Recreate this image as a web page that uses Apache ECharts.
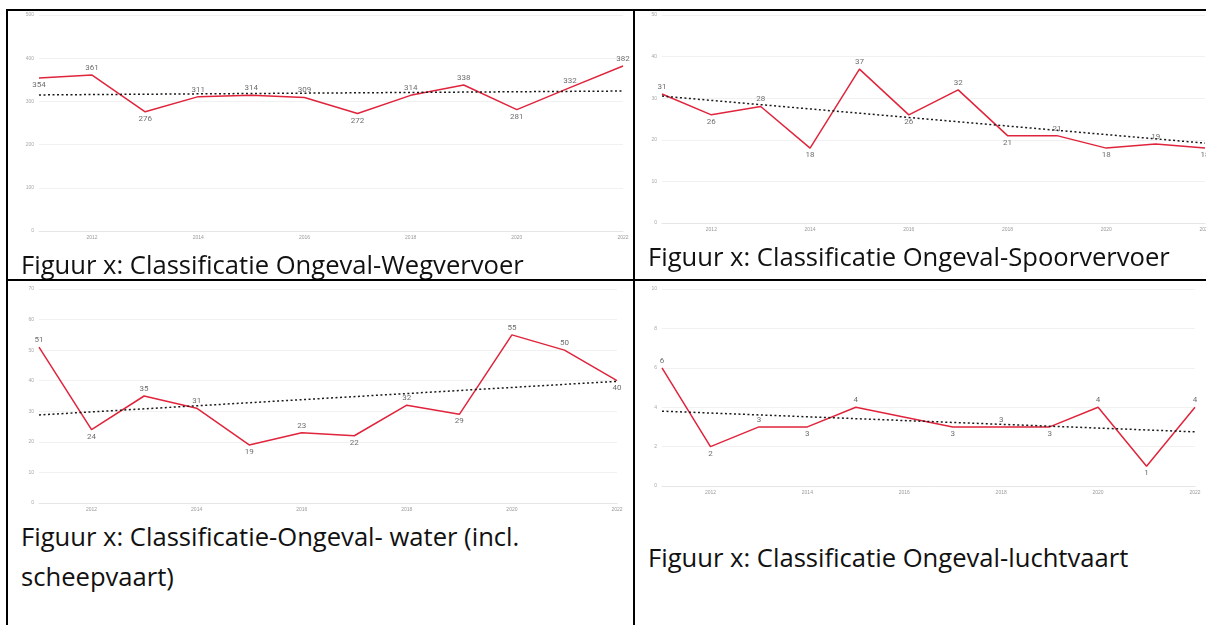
<!DOCTYPE html>
<html>
<head>
<meta charset="utf-8">
<script src="https://cdn.jsdelivr.net/npm/echarts@6/dist/echarts.min.js"></script>
<style>
  html, body { margin: 0; padding: 0; background: #fff; }
  body { width: 1206px; height: 625px; overflow: hidden; position: relative; }
  .chart { position: absolute; }
  .line { position: absolute; background: #000; z-index: 5; }
  .caption { position: absolute; font-family: "Open Sans", sans-serif; font-size: 25.6px; color: #111; white-space: nowrap; line-height: 40px; }
</style>
</head>
<body>
<div id="chartWeg" class="chart" style="left:0px; top:10px; width:632px; height:240px;"></div>
<div id="chartSpoor" class="chart" style="left:636px; top:10px; width:580px; height:240px;"></div>
<div id="chartWater" class="chart" style="left:0px; top:282px; width:632px; height:230px;"></div>
<div id="chartLucht" class="chart" style="left:636px; top:282px; width:570px; height:215px;"></div>

<div class="line" style="left:6px; top:9px; width:1200px; height:2px;"></div>
<div class="line" style="left:6px; top:279px; width:1200px; height:2px;"></div>
<div class="line" style="left:6px; top:9px; width:2px; height:616px;"></div>
<div class="line" style="left:633px; top:9px; width:2px; height:616px;"></div>

<div class="caption" style="left:21px; top:245px;">Figuur x: Classificatie Ongeval-Wegvervoer</div>
<div class="caption" style="left:648px; top:237px;">Figuur x: Classificatie Ongeval-Spoorvervoer</div>
<div class="caption" style="left:21px; top:517px;">Figuur x: Classificatie-Ongeval- water (incl.<br>scheepvaart)</div>
<div class="caption" style="left:648px; top:538px;">Figuur x: Classificatie Ongeval-luchtvaart</div>

<script>
var years = ['2011', '2012', '2013', '2014', '2015', '2016', '2017', '2018', '2019', '2020', '2021', '2022'];

var wegValues = [354, 361, 276, 311, 314, 309, 272, 314, 338, 281, 332, 382];
var wegTrend = [315, 324];
var wegAxis = [0, 500, 100];

var spoorValues = [31, 26, 28, 18, 37, 26, 32, 21, 21, 18, 19, 18];
var spoorTrend = [30.5, 19.2];
var spoorAxis = [0, 50, 10];

var waterValues = [51, 24, 35, 31, 19, 23, 22, 32, 29, 55, 50, 40];
var waterTrend = [28.8, 39.8];
var waterAxis = [0, 70, 10];

var luchtValues = [6, 2, 3, 3, 4, null, 3, 3, 3, 4, 1, 4];
var luchtTrend = [3.8, 2.75];
var luchtAxis = [0, 10, 2];

// label under the point when it is a local low, otherwise above
function labelSide(vals, i) {
	var v = vals[i];
	if (v == null) return 'top';
	var p = null, n = null;
	for (var j = i - 1; j >= 0; j--) { if (vals[j] != null) { p = vals[j]; break; } }
	for (var k = i + 1; k < vals.length; k++) { if (vals[k] != null) { n = vals[k]; break; } }
	var below = (p == null || v <= p) && (n == null || v <= n) && !(v === p && v === n);
	return below ? 'bottom' : 'top';
}

function makeOption(values, trend, axis, grid) {
	return {
		animation: false,
		grid: grid,
		xAxis: {
			type: 'category',
			boundaryGap: false,
			data: years,
			axisTick: { show: false },
			axisLine: { lineStyle: { color: '#e6e6e6' } },
			axisLabel: {
				fontSize: 5,
				color: '#9a9a9a',
				margin: 4,
				interval: function(index) { return index % 2 === 1; }
			}
		},
		yAxis: {
			type: 'value',
			min: axis[0],
			max: axis[1],
			interval: axis[2],
			axisLine: { show: false },
			axisTick: { show: false },
			splitLine: { lineStyle: { color: '#f1f1f1' } },
			axisLabel: { fontSize: 5, color: '#a8a8a8', margin: 5 }
		},
		series: [{
			type: 'line',
			connectNulls: true,
			symbol: 'circle',
			symbolSize: 0.1,
			lineStyle: { color: '#e0243c', width: 1.5 },
			itemStyle: { color: '#e0243c' },
			label: { show: true, fontSize: 8, color: '#6e6e6e', distance: 3, fontFamily: 'Roboto' },
			data: values.map(function(v, i) {
				return v == null ? '-' : { value: v, label: { position: labelSide(values, i) } };
			})
		}, {
			type: 'line',
			silent: true,
			symbol: 'none',
			lineStyle: { color: '#1a1a1a', width: 1.5, type: [2, 2.5] },
			data: [[years[0], trend[0]], [years[years.length - 1], trend[1]]]
		}]
	};
}

echarts.init(document.getElementById('chartWeg')).setOption(
	makeOption(wegValues, wegTrend, wegAxis, { left: 39, right: 9, top: 5, bottom: 19 }));
echarts.init(document.getElementById('chartSpoor')).setOption(
	makeOption(spoorValues, spoorTrend, spoorAxis, { left: 26, right: 11, top: 5, bottom: 27 }));
echarts.init(document.getElementById('chartWater')).setOption(
	makeOption(waterValues, waterTrend, waterAxis, { left: 39, right: 15, top: 7, bottom: 9 }));
echarts.init(document.getElementById('chartLucht')).setOption(
	makeOption(luchtValues, luchtTrend, luchtAxis, { left: 26, right: 11, top: 7, bottom: 11 }));
</script>
</body>
</html>
